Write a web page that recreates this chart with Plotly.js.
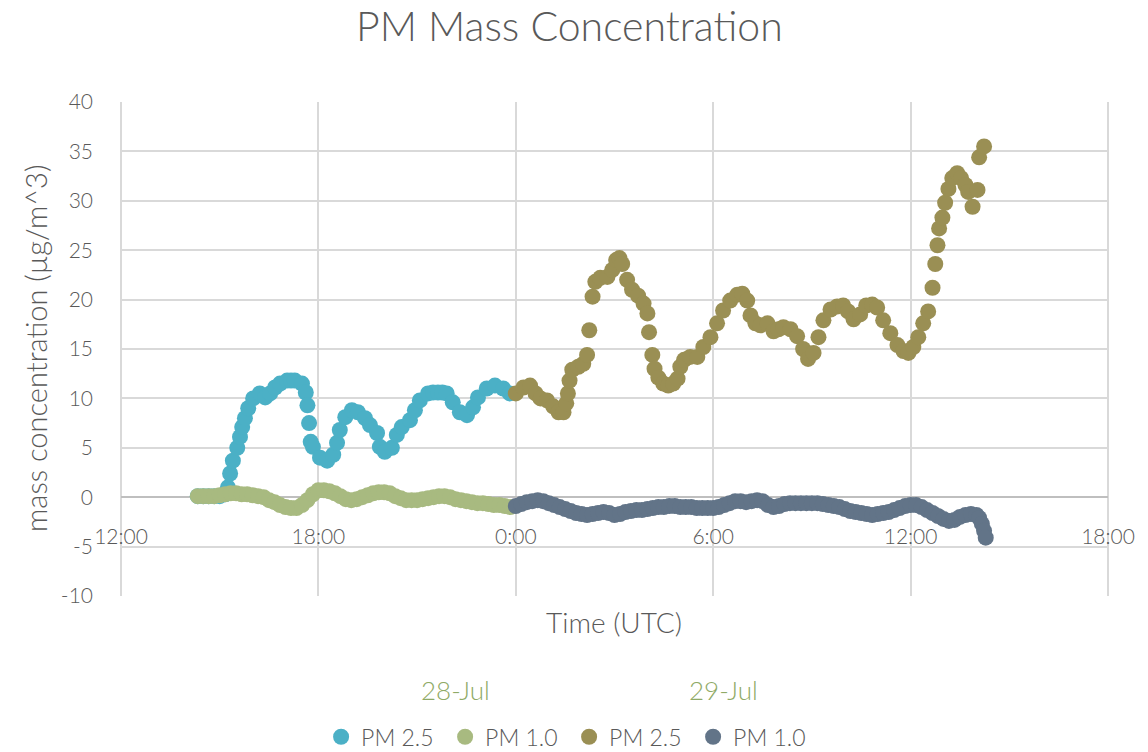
<!DOCTYPE html>
<html>
<head>
<meta charset="utf-8">
<script src="https://cdn.plot.ly/plotly-3.0.1.min.js"></script>
<style>html,body{margin:0;padding:0;background:#fff}#chart{width:1148px;height:752px}</style>
</head>
<body>
<div id="chart"></div>
<script>
// ---- Data ----
const day1 = "2020-07-28";
const day2 = "2020-07-29";

// PM 2.5, 28-Jul
const pm25aTime = ["14:20","14:30","14:40","14:50","15:00","15:10","15:15","15:19","15:24","15:32","15:37","15:41","15:46","15:52","16:01","16:13","16:23","16:32","16:41","16:50","17:03","17:10","17:17","17:30","17:37","17:40","17:43","17:46","17:50","18:03","18:16","18:27","18:34","18:39","18:49","19:01","19:12","19:25","19:34","19:47","19:52","20:01","20:14","20:23","20:32","20:47","20:56","21:05","21:20","21:29","21:38","21:46","21:54","22:05","22:18","22:31","22:42","22:51","23:07","23:22","23:37","23:49"];
const pm25aVal  = [0.1,0.1,0.1,0.1,0.1,0.3,1.0,2.4,3.7,5.0,6.1,7.1,8.0,9.0,10.0,10.5,10.1,10.5,11.1,11.5,11.8,11.8,11.8,11.5,10.6,9.3,7.5,5.6,5.1,4.0,3.7,4.3,5.5,6.8,8.1,8.8,8.6,8.0,7.3,6.5,5.1,4.6,5.0,6.3,7.1,7.8,8.8,9.8,10.5,10.6,10.6,10.6,10.5,9.6,8.6,8.3,9.1,10.1,11.0,11.3,11.0,10.5];

// PM 1.0, 28-Jul
const pm10aTime = ["14:20","14:30","14:40","14:50","15:00","15:10","15:20","15:30","15:40","15:50","16:00","16:10","16:20","16:30","16:40","16:50","17:00","17:10","17:20","17:30","17:40","17:50","18:00","18:10","18:20","18:30","18:40","18:50","19:00","19:10","19:20","19:30","19:40","19:50","20:00","20:10","20:20","20:30","20:40","20:50","21:00","21:10","21:20","21:30","21:40","21:50","22:00","22:10","22:20","22:30","22:40","22:50","23:00","23:10","23:20","23:30","23:40","23:50"];
const pm10aVal  = [0.1,0.1,0.1,0.1,0.2,0.3,0.4,0.4,0.3,0.3,0.2,0.1,0.0,-0.3,-0.5,-0.8,-1.0,-1.1,-1.1,-0.8,-0.3,0.3,0.7,0.7,0.6,0.4,0.1,-0.2,-0.3,-0.2,0.0,0.2,0.4,0.5,0.5,0.4,0.1,-0.1,-0.3,-0.3,-0.3,-0.2,-0.1,0.0,0.1,0.1,0.0,-0.2,-0.3,-0.4,-0.5,-0.6,-0.6,-0.7,-0.8,-0.8,-0.9,-1.0];

// PM 2.5, 29-Jul
const pm25bTime = ["0:00","0:14","0:26","0:36","0:45","0:57","1:08","1:18","1:27","1:32","1:35","1:38","1:43","1:54","2:03","2:10","2:14","2:20","2:25","2:34","2:47","2:56","3:03","3:09","3:14","3:23","3:32","3:43","3:53","4:00","4:03","4:09","4:13","4:20","4:29","4:38","4:47","4:55","5:00","5:07","5:18","5:31","5:42","5:55","6:07","6:18","6:31","6:44","6:53","7:02","7:08","7:17","7:26","7:39","7:50","7:59","8:08","8:21","8:33","8:44","8:53","9:03","9:12","9:21","9:34","9:46","9:57","10:06","10:16","10:28","10:39","10:50","10:59","11:10","11:23","11:36","11:47","11:56","12:05","12:14","12:23","12:32","12:40","12:45","12:49","12:52","12:58","13:03","13:09","13:16","13:25","13:32","13:40","13:45","13:53","14:02","14:05","14:14"];
const pm25bVal  = [10.5,11.1,11.3,10.5,10.0,9.8,9.2,8.6,8.6,9.5,10.5,11.8,12.9,13.2,13.5,14.4,16.9,20.3,21.8,22.2,22.3,23.0,24.0,24.2,23.6,22.0,21.0,20.4,19.6,18.6,16.7,14.4,13.0,12.1,11.5,11.3,11.5,12.0,13.2,13.9,14.2,14.2,15.2,16.2,17.6,18.9,19.9,20.5,20.6,19.9,18.4,17.6,17.4,17.6,16.8,17.0,17.2,17.0,16.3,15.0,14.0,14.6,16.2,17.9,19.0,19.3,19.4,18.8,18.0,18.5,19.4,19.5,19.2,17.9,16.6,15.4,14.8,14.6,15.2,16.2,17.6,18.8,21.2,23.6,25.5,27.2,28.3,29.8,31.2,32.3,32.8,32.3,31.6,30.9,29.4,31.1,34.4,35.5];

// PM 1.0, 29-Jul
const pm10bTime = ["0:00","0:10","0:20","0:30","0:40","0:50","1:00","1:10","1:20","1:30","1:40","1:50","2:00","2:10","2:20","2:30","2:40","2:50","3:00","3:10","3:20","3:30","3:40","3:50","4:00","4:10","4:20","4:30","4:40","4:50","5:00","5:10","5:20","5:30","5:40","5:50","6:00","6:10","6:20","6:30","6:40","6:50","7:00","7:10","7:20","7:30","7:40","7:50","8:00","8:10","8:20","8:30","8:40","8:50","9:00","9:10","9:20","9:30","9:40","9:50","10:00","10:10","10:20","10:30","10:40","10:50","11:00","11:10","11:20","11:30","11:40","11:50","12:00","12:10","12:20","12:30","12:40","12:50","13:00","13:10","13:20","13:30","13:40","13:50","14:00","14:05","14:10","14:14","14:17"];
const pm10bVal  = [-0.9,-0.7,-0.5,-0.4,-0.3,-0.4,-0.6,-0.8,-1.0,-1.2,-1.4,-1.6,-1.7,-1.8,-1.7,-1.6,-1.5,-1.6,-1.8,-1.7,-1.5,-1.4,-1.3,-1.3,-1.2,-1.1,-1.0,-1.0,-0.9,-0.9,-1.0,-1.0,-1.0,-1.1,-1.1,-1.1,-1.1,-1.0,-0.8,-0.6,-0.4,-0.4,-0.5,-0.4,-0.3,-0.4,-0.8,-1.0,-0.9,-0.7,-0.6,-0.6,-0.6,-0.6,-0.6,-0.6,-0.7,-0.8,-0.9,-1.0,-1.2,-1.4,-1.5,-1.6,-1.7,-1.8,-1.7,-1.6,-1.5,-1.3,-1.1,-0.9,-0.8,-0.8,-1.0,-1.3,-1.6,-1.9,-2.2,-2.4,-2.3,-2.0,-1.8,-1.7,-1.8,-2.1,-2.7,-3.4,-4.1];

const seriesNames = ["PM 2.5","PM 1.0","PM 2.5","PM 1.0"];
const seriesColors = ["#4BB0C6","#A8BA80","#9A8F54","#627488"];

const xTickVals = ["2020-07-28 12:00","2020-07-28 18:00","2020-07-29 00:00","2020-07-29 06:00","2020-07-29 12:00","2020-07-29 18:00"];
const xTickLabels = ["12:00","18:00","0:00","6:00","12:00","18:00"];
const yTickVals = [-10,-5,0,5,10,15,20,25,30,35,40];
const yTickLabels = ["-10","-5","0","5","10","15","20","25","30","35","40"];
const dateLabels = ["28-Jul","29-Jul"];

// ---- Build ----
function pad(t){const p=t.split(":");return (p[0].length<2?"0"+p[0]:p[0])+":"+p[1];}
const toX = (day, arr) => arr.map(t => day + " " + pad(t));

const sets = [
  [toX(day1,pm25aTime), pm25aVal],
  [toX(day1,pm10aTime), pm10aVal],
  [toX(day2,pm25bTime), pm25bVal],
  [toX(day2,pm10bTime), pm10bVal]
];
const FONT = "Lato, 'Open Sans', sans-serif";
const TXT = "#595959";

const traces = sets.map((s,i)=>({
  type:"scatter", mode:"markers", x:s[0], y:s[1], name:seriesNames[i],
  marker:{color:seriesColors[i], size:16, line:{width:0}}
}));

const layout = {
  width:1148, height:752,
  margin:{l:121, r:40, t:102, b:156, autoexpand:false},
  paper_bgcolor:"#fff", plot_bgcolor:"#fff",
  font:{family:FONT, color:TXT, size:20, weight:300},
  title:{text:"PM Mass Concentration", font:{family:FONT, size:41, color:TXT, weight:300}, x:0.496, xref:"container", xanchor:"center", y:0.964, yref:"container", yanchor:"middle"},
  xaxis:{type:"date", range:["2020-07-28 12:00","2020-07-29 18:00"], tickvals:xTickVals, ticktext:xTickLabels,
         anchor:"free", position:0.2, showgrid:true, gridcolor:"#d9d9d9", gridwidth:2,
         showline:false, zeroline:false, ticks:"", ticklabelstandoff:25, tickfont:{size:21, color:TXT, weight:300}},
  yaxis:{range:[-10,40], tickvals:yTickVals, ticktext:yTickLabels, showgrid:true, gridcolor:"#d9d9d9", gridwidth:2,
         zeroline:true, zerolinecolor:"#bfbfbf", zerolinewidth:2,
         showline:false, ticks:"", ticklabelstandoff:27, tickfont:{size:21, color:TXT, weight:300}},
  showlegend:true,
  legend:{orientation:"h", x:0.454, xanchor:"center", y:-0.285, yanchor:"middle", font:{size:23, color:TXT, weight:300}, itemwidth:30, entrywidth:79, entrywidthmode:"pixels", tracegroupgap:0},
  annotations:[
    {text:"mass concentration (µg/m^3)", xref:"paper", yref:"paper", x:0, y:0.5, xshift:-86, textangle:-90, showarrow:false, font:{size:29, color:TXT, weight:300}, xanchor:"center", yanchor:"middle"},
    {text:"Time (UTC)", xref:"paper", yref:"paper", x:0.4995, y:0, yshift:-26, showarrow:false, font:{size:28, color:TXT, weight:300}, xanchor:"center", yanchor:"middle"},
    {text:dateLabels[0], xref:"paper", yref:"paper", x:0.3394, y:0, yshift:-94, showarrow:false, font:{size:26, color:"#8FAA66", weight:300}, xanchor:"center", yanchor:"middle"},
    {text:dateLabels[1], xref:"paper", yref:"paper", x:0.610, y:0, yshift:-94, showarrow:false, font:{size:26, color:"#8FAA66", weight:300}, xanchor:"center", yanchor:"middle"}
  ],
  shapes:[
    {type:"line", xref:"paper", yref:"paper", x0:0, x1:0, y0:0, y1:1, line:{color:"#d9d9d9", width:2}, layer:"below"},
    {type:"line", xref:"paper", yref:"paper", x0:1, x1:1, y0:0, y1:1, line:{color:"#d9d9d9", width:2}, layer:"below"}
  ]
};
Plotly.newPlot("chart", traces, layout, {staticPlot:true, displayModeBar:false});
</script>
</body>
</html>
